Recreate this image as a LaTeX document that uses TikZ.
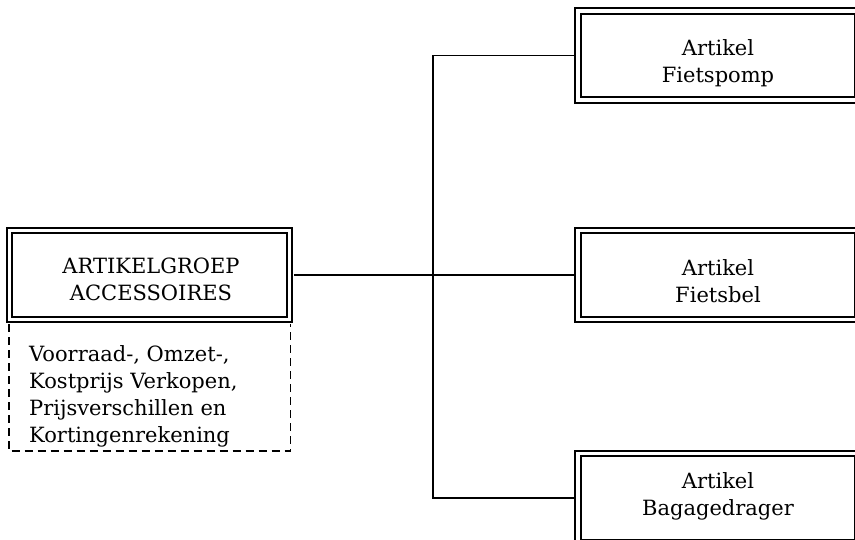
\documentclass[tikz,border=0pt]{standalone}
\usepackage{fontspec}
\setmainfont{DejaVu Serif}
\begin{document}
\begin{tikzpicture}[x=1pt,y=-1pt,
  box/.style={draw, double, double distance=3.6pt, line width=1.8pt,
    minimum width=280pt, minimum height=89pt, inner sep=0pt, fill=white},
  conn/.style={draw, line width=1.8pt},
  dashline/.style={draw, line width=1.8pt, dash pattern=on 8pt off 5pt},
  txt/.style={inner sep=0pt, font=\fontsize{21}{27}\selectfont},
]
\useasboundingbox (0,0) rectangle (855,539);
\clip (0,0) rectangle (855,539);
\node[box] (grp) at (149.5,275) {};
\node[box] (top) at (718,55.5) {};
\node[box] (mid) at (718,275) {};
\node[box] (bot) at (718,498) {};
\coordinate (j) at (433,275);
\draw[conn, shorten <=3.6pt, shorten >=3.6pt] (grp.east) -- (mid.west);
\draw[conn, shorten <=3.6pt, shorten >=3.6pt] (top.west) -- (top.west -| j) -- (bot.west -| j) -- (bot.west);
\draw[dashline] ([yshift=-3.6pt]grp.south west) -- ++(0,127) -| ([yshift=-3.6pt]grp.south east);
\node[txt, anchor=north, align=center] (tgrp) at (151,258) {ARTIKELGROEP\\ACCESSOIRES};
\node[txt, anchor=north, align=center] (ttop) at (718,39) {Artikel\\Fietspomp};
\node[txt, anchor=north, align=center] (tmid) at (718,259) {Artikel\\Fietsbel};
\node[txt, anchor=north, align=center] (tbot) at (718,472) {Artikel\\Bagagedrager};
\node[txt, anchor=north west, align=left] (info) at (29,345) {Voorraad-, Omzet-,\\Kostprijs Verkopen,\\Prijsverschillen en\\Kortingenrekening};
\end{tikzpicture}
\end{document}
